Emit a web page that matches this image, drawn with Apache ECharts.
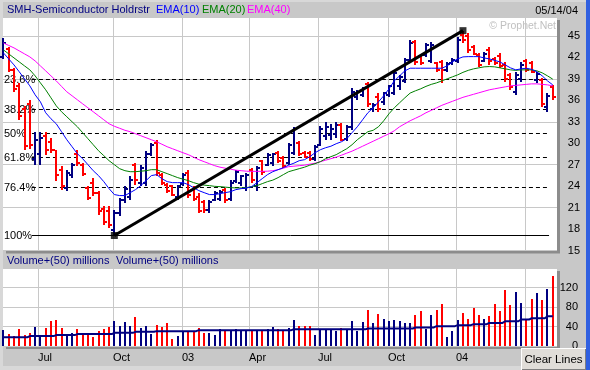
<!DOCTYPE html>
<html>
<head>
<meta charset="utf-8">
<script src="https://cdn.jsdelivr.net/npm/echarts@6/dist/echarts.min.js"></script>
<style>
html,body{margin:0;padding:0;background:#c8c8c8;overflow:hidden;}
#chart{width:590px;height:370px;}
</style>
</head>
<body>
<div id="chart"></div>
<script>
// ---- Weekly bars, May 2002 .. 05/14/04 (index 0 = first bar) ----
const opens = [
 42.0,43.2,40.2,38.0,34.8,35.5,27.8,
 28.5,31.0,30.2,29.0,26.3,23.8,25.6,28.5,27.0,23.8,
 24.5,23.0,20.8,20.5,17.8,20.3,22.0,22.5,27.0,24.5,
 24.5,28.5,30.0,25.5,24.2,24.0,22.5,24.3,25.8,23.5,
 22.5,21.8,20.6,22.0,22.2,23.5,22.2,24.7,24.5,23.8,
 26.3,24.0,27.5,27.0,27.2,28.7,28.0,27.2,28.6,30.0,
 28.7,28.6,27.8,29.8,31.0,31.2,31.3,32.5,30.6,32.2,
 36.5,36.8,38.3,34.8,36.5,35.8,36.8,37.0,38.0,38.7,
 41.7,44.2,42.2,42.4,41.5,41.2,41.3,40.3,41.2,41.5,
 45.2,45.0,43.5,42.3,41.5,43.0,41.8,42.2,41.0,39.5,
 37.2,39.0,41.5,41.2,38.8,38.8,35.0,37.8];
const highs = [
 44.7,43.5,40.5,38.4,35.2,36.1,31.5,
 31.5,31.6,30.8,29.1,26.8,26.3,27.3,29.0,27.3,24.0,
 25.1,23.3,21.2,21.2,20.7,22.4,24.0,25.4,27.2,27.0,
 28.9,30.1,30.4,25.8,24.5,24.2,24.2,25.8,26.3,24.0,
 23.0,22.1,22.1,23.3,23.5,23.7,24.9,26.3,25.6,25.8,
 26.6,26.8,27.7,28.7,28.7,28.9,28.2,30.1,32.3,30.3,
 28.9,28.9,29.8,32.4,32.9,32.7,32.9,32.8,32.6,37.7,
 37.5,37.9,38.6,35.6,37.0,37.2,38.2,40.3,39.6,41.9,
 44.4,44.5,42.35,44.0,44.2,41.4,41.65,41.4,41.9,44.9,
 45.7,45.4,43.75,42.6,42.8,43.5,42.1,42.6,41.4,39.8,
 40.0,41.4,41.75,41.55,40.0,39.1,37.0,38.2];
const lows = [
 41.8,40.0,37.2,33.3,29.0,29.2,27.0,
 27.0,28.4,28.7,24.7,23.5,23.3,25.2,26.8,25.4,22.1,
 22.6,20.0,18.6,18.2,17.1,19.8,21.7,22.1,24.2,24.0,
 24.0,28.2,25.4,24.2,23.1,22.6,22.1,24.0,22.4,21.9,
 20.3,20.3,20.3,21.9,21.9,21.7,21.9,24.4,24.0,23.3,
 24.4,23.3,25.6,26.8,26.8,27.2,26.5,27.0,28.4,28.2,
 27.9,27.5,27.5,29.6,30.5,30.5,30.7,30.3,30.3,31.9,
 36.1,36.5,35.1,34.4,34.4,35.4,36.5,36.8,37.5,38.4,
 41.4,41.0,41.0,42.1,41.2,40.0,38.4,40.0,41.0,41.2,
 44.0,42.6,42.35,40.7,41.4,41.0,41.0,40.5,38.6,37.5,
 36.8,38.6,40.0,39.8,38.4,35.1,34.4,36.1];
const closes = [
 44.0,40.3,37.6,33.8,29.6,29.8,30.5,
 30.8,29.0,29.0,25.5,24.0,25.8,27.0,27.2,25.7,22.4,
 23.0,20.5,19.0,18.6,20.2,22.0,23.6,24.8,24.9,26.5,
 28.5,29.8,25.8,24.4,23.3,22.8,24.0,25.5,22.8,22.2,
 20.5,20.6,21.8,23.0,23.2,22.0,24.5,26.0,25.4,25.5,
 24.8,26.5,26.0,28.4,28.5,27.5,26.8,29.8,32.0,28.5,
 28.1,27.8,29.5,32.0,32.3,32.0,32.5,30.5,32.3,37.2,
 37.2,37.7,35.5,35.4,34.8,37.0,38.0,39.8,39.3,41.6,
 44.0,41.4,41.2,43.7,43.8,40.2,40.3,41.1,41.7,44.5,
 44.5,43.0,42.5,41.0,42.5,41.5,41.2,40.8,39.0,37.8,
 39.5,41.0,40.3,40.0,39.7,35.5,36.6,36.4];
const ema10 = [
 42.63,41.79,40.95,39.98,39.00,38.02,36.77,
 35.79,34.26,33.42,32.72,31.61,30.49,29.51,28.53,27.84,27.00,
 26.16,25.47,24.63,23.65,22.82,22.68,22.68,23.09,23.51,24.07,
 24.77,25.47,25.61,25.05,24.63,24.49,24.49,24.49,24.21,23.79,
 23.37,23.09,22.82,22.82,22.95,23.09,23.23,23.51,23.65,23.72,
 23.93,24.49,25.05,25.61,26.02,26.30,26.58,26.93,27.21,27.56,
 27.70,28.12,28.67,29.09,29.37,29.58,29.93,30.21,30.63,31.47,
 32.30,33.28,34.26,34.95,35.79,36.63,37.61,38.72,39.42,40.12,
 40.49,40.49,40.49,40.49,40.49,40.49,40.49,40.81,41.37,41.79,
 42.07,42.11,42.11,42.11,41.93,41.79,41.58,41.37,40.95,40.54,
 40.26,40.40,40.49,40.33,39.98,39.42,38.72,38.16];
const ema20 = [
 43.05,42.49,41.93,41.37,40.81,40.26,39.42,
 38.44,37.47,36.35,35.23,34.40,33.70,33.00,32.30,31.47,30.63,
 29.79,28.95,28.26,27.56,27.00,26.44,26.16,26.02,26.02,26.09,
 26.16,26.30,26.30,26.02,25.75,25.47,25.19,24.98,24.77,24.49,
 24.28,24.14,24.07,23.97,23.93,23.86,23.79,23.75,23.75,23.79,
 23.93,24.07,24.35,24.63,24.84,25.19,25.61,26.02,26.23,26.44,
 26.65,26.93,27.14,27.42,27.84,28.12,28.40,28.82,29.23,29.79,
 30.49,31.05,31.61,31.81,32.30,33.14,34.12,34.95,35.65,36.35,
 37.01,37.33,37.61,37.95,38.23,38.44,38.72,39.00,39.28,39.56,
 39.91,40.19,40.40,40.54,40.68,40.72,40.68,40.54,40.40,40.26,
 40.19,40.26,40.26,40.26,40.12,39.84,39.42,38.96];
const ema40 = [
 44.02,43.67,43.33,42.91,42.49,42.07,41.51,
 40.81,40.12,39.42,38.72,37.95,37.19,36.63,36.07,35.51,34.95,
 34.40,33.84,33.28,32.72,32.37,32.09,31.81,31.61,31.33,31.05,
 30.77,30.49,30.21,29.86,29.51,29.23,28.95,28.67,28.40,28.05,
 27.70,27.42,27.14,26.86,26.65,26.51,26.37,26.23,26.16,26.09,
 26.07,26.07,26.07,26.09,26.16,26.30,26.51,26.72,26.79,26.86,
 26.93,27.07,27.21,27.42,27.63,27.84,28.05,28.33,28.61,28.89,
 29.23,29.58,29.93,30.28,30.63,30.98,31.33,31.74,32.30,32.72,
 33.14,33.49,33.84,34.26,34.60,34.95,35.30,35.58,35.86,36.14,
 36.42,36.63,36.84,37.05,37.26,37.47,37.61,37.75,37.88,38.02,
 38.09,38.16,38.23,38.30,38.30,38.23,38.16,38.02];
// volume, millions
const volumes = [
 32.5,24.4,20.3,34.6,22.4,27,38,
 22.4,36.6,51.5,54.3,36.6,24.4,27,34.6,27,27,
 17.7,31.1,35.2,38,51.5,40.7,49.4,40.7,59.6,36,
 40.7,24.4,42.7,39.3,47.4,13.6,20.3,31.1,31.1,29.9,
 36.6,27,25.8,22.4,34,31.1,32.5,35.2,32.5,32.5,
 32.5,32.5,31.1,34.6,38,34,32.5,36,52.9,40.7,
 40.7,40.7,22.4,34,34,34,30.5,36,34,51.5,
 30.5,49.4,73.2,47.4,65,56.3,51.5,54.3,51.5,47.4,
 46.2,63,71.2,34.6,63,73.2,85.4,17.7,30.5,52.9,
 67.7,54.9,77.3,63,56.3,61.6,85.4,71.2,113.9,83.4,
 109.8,88.9,54.3,97,108.4,93.6,117.3,144.4];
const volAvg50 = [
 17.7,17.7,17.7,17.7,17.7,20.3,20.3,
 20.3,20.3,20.3,22.4,22.4,22.4,22.4,24.4,24.4,24.4,
 24.4,24.4,24.4,24.4,27,27,27,27,29.1,29.1,
 29.1,29.1,30.5,30.5,30.5,30.5,30.5,30.5,30.5,30.5,
 32.5,32.5,32.5,32.5,32.5,32.5,32.5,32.5,32.5,32.5,
 32.5,32.5,32.5,32.5,32.5,32.5,32.5,32.5,34.2,34.2,
 34.2,34.2,34.2,34.2,34.2,34.2,34.2,34.2,34.2,34.2,
 34.2,34.2,36,36,36,36,36,36,36,36,
 36,38,38,38,38,40.7,40.7,40.7,40.7,42.7,
 42.7,42.7,44.7,44.7,44.7,47.4,47.4,47.4,50.8,50.8,
 50.8,54.3,54.3,56.9,56.9,56.9,61,61];
// ---- axis ticks / annotations ----
const monthLabels = ['Jul','Oct','03','Apr','Jul','Oct','04','Apr'];
const monthPos = [6.55,20.74,33.81,46.49,59.55,72.8,85.68,98.7];
const priceTicks = {min:15, max:47.65, step:3, gridStep:6};
const volTicks = {min:0, max:160, step:40};
const fibLabels = ['23.6%','38.2%','50%','61.8%','76.4%','100%'];
const fibLevels = [38.98,34.80,31.42,28.04,23.86,17.10];
const fibSpan = [5.4, 103.3];
const trendPoints = [[21, 17.10],[87, 45.74]];
const eMark = [103.0, 30.6];
const X_MIN = -0.081, X_MAX = 104.804;

const NAVY = '#000080', RED = '#ff0000';
const FONT = '"Liberation Sans", Arial, sans-serif';

const chart = echarts.init(document.getElementById('chart'), null, {renderer:'canvas', width:590, height:370});

const ohlcData = opens.map((o,i)=>[i, o, highs[i], lows[i], closes[i]]);
const volData = volumes.map((v,i)=>[i, v, closes[i] >= opens[i] ? 1 : 0]);

function ohlcItem(params, api){
  const x = api.value(0), o = api.value(1), h = api.value(2), l = api.value(3), c = api.value(4);
  const pt = api.coord([x,h]), pb = api.coord([x,l]), po = api.coord([x,o]), pc = api.coord([x,c]);
  const px = Math.round(pt[0]);
  const col = c < o ? RED : NAVY;
  const yt = Math.round(pt[1]), yb = Math.round(pb[1]);
  const yo = Math.round(po[1]), yc = Math.round(pc[1]);
  return {type:'group', children:[
    {type:'rect', shape:{x:px-1, y:yt, width:2, height:Math.max(2, yb-yt)}, style:{fill:col}},
    {type:'rect', shape:{x:px-3, y:yo-1, width:2, height:2}, style:{fill:col}},
    {type:'rect', shape:{x:px+1, y:yc-1, width:2, height:2}, style:{fill:col}}
  ]};
}
function volItem(params, api){
  const x = api.value(0), v = api.value(1), up = api.value(2);
  const p0 = api.coord([x,0]), p1 = api.coord([x,v]);
  const px = Math.round(p0[0]);
  const y1 = Math.round(p1[1]), y0 = Math.round(p0[1]);
  return {type:'rect', shape:{x:px-1, y:y1, width:2, height:y0-y1}, style:{fill: up ? NAVY : RED}};
}
function vGridPrice(params, api){
  const p = api.value(0);
  const a = api.coord([p, priceTicks.min]), b = api.coord([p, priceTicks.max]);
  const x = Math.round(a[0]) + 0.5;
  return {type:'line', shape:{x1:x, y1:b[1], x2:x, y2:a[1]}, style:{stroke:'#c8c8c8', lineWidth:1}};
}
function vGridVol(params, api){
  const p = api.value(0);
  const a = api.coord([p, volTicks.min]), b = api.coord([p, volTicks.max]);
  const x = Math.round(a[0]) + 0.5;
  return {type:'group', children:[
    {type:'line', shape:{x1:x, y1:b[1], x2:x, y2:a[1]}, style:{stroke:'#c8c8c8', lineWidth:1}},
    {type:'text', x:x-0.5, y:a[1]+12, style:{text:monthLabels[params.dataIndex], fill:'#000', font:'11px '+FONT, align:'left', verticalAlign:'middle'}}
  ]};
}
function fibItem(params, api){
  const k = params.dataIndex;
  const v = api.value(1);
  const a = api.coord([fibSpan[0], v]), b = api.coord([fibSpan[1], v]), s = api.coord([X_MIN, v]);
  const y = Math.round(a[1]) + 0.5;
  const solid = k === fibLevels.length - 1;
  return {type:'group', children:[
    {type:'line', shape:{x1:a[0], y1:y, x2:b[0], y2:y}, style:{stroke:'#000', lineWidth:1, lineDash: solid ? null : [4,3]}},
    {type:'text', x:s[0]+1, y:y, style:{text:fibLabels[k], fill:'#000', font:'11px '+FONT, align:'left', verticalAlign:'middle'}}
  ]};
}

const option = {
  animation:false,
  backgroundColor:'#c8c8c8',
  grid:[
    {left:3, top:17, width:554, height:233.5, show:true, backgroundColor:'#ffffff', borderWidth:0},
    {left:3, top:268, width:554, height:78, show:true, backgroundColor:'#ffffff', borderWidth:0}
  ],
  xAxis:[
    {type:'value', gridIndex:0, min:X_MIN, max:X_MAX, show:false},
    {type:'value', gridIndex:1, min:X_MIN, max:X_MAX, show:false}
  ],
  yAxis:[
    {type:'value', gridIndex:0, position:'right', min:priceTicks.min, max:priceTicks.max, interval:priceTicks.step,
     axisLine:{show:false}, axisTick:{show:false}, splitLine:{show:false},
     axisLabel:{color:'#000', fontSize:11, fontFamily:FONT, align:'right', margin:23, showMaxLabel:false}},
    {type:'value', gridIndex:0, position:'left', min:priceTicks.min, max:priceTicks.max, interval:priceTicks.gridStep,
     axisLine:{show:false}, axisTick:{show:false}, axisLabel:{show:false},
     splitLine:{show:true, lineStyle:{color:'#c8c8c8', width:1}}},
    {type:'value', gridIndex:1, position:'right', min:volTicks.min, max:volTicks.max, interval:volTicks.step,
     axisLine:{show:false}, axisTick:{show:false},
     splitLine:{show:true, lineStyle:{color:'#c8c8c8', width:1}},
     axisLabel:{color:'#000', fontSize:11, fontFamily:FONT, align:'right', margin:21, showMaxLabel:false}}
  ],
  series:[
    {type:'custom', name:'vgrid', xAxisIndex:0, yAxisIndex:0, z:1, silent:true, renderItem:vGridPrice, data:monthPos.map(p=>[p])},
    {type:'custom', name:'vgridvol', xAxisIndex:1, yAxisIndex:2, z:1, silent:true, renderItem:vGridVol, data:monthPos.map(p=>[p])},
    {type:'custom', name:'fib', xAxisIndex:0, yAxisIndex:0, z:3, silent:true, renderItem:fibItem, data:fibLevels.map((v,k)=>[k,v])},
    {type:'custom', name:'SMH', xAxisIndex:0, yAxisIndex:0, z:4, renderItem:ohlcItem, data:ohlcData},
    {type:'line', name:'EMA(40)', xAxisIndex:0, yAxisIndex:0, z:5, data:ema40.map((v,i)=>[i,v]), showSymbol:false, lineStyle:{color:'#ff00ff', width:1}},
    {type:'line', name:'EMA(20)', xAxisIndex:0, yAxisIndex:0, z:5, data:ema20.map((v,i)=>[i,v]), showSymbol:false, lineStyle:{color:'#008000', width:1}},
    {type:'line', name:'EMA(10)', xAxisIndex:0, yAxisIndex:0, z:5, data:ema10.map((v,i)=>[i,v]), showSymbol:false, lineStyle:{color:'#0000ff', width:1}},
    {type:'line', name:'trend', xAxisIndex:0, yAxisIndex:0, z:7, data:trendPoints, showSymbol:false, lineStyle:{color:'#000', width:3}},
    {type:'scatter', name:'ends', xAxisIndex:0, yAxisIndex:0, z:8, data:trendPoints, symbol:'rect', symbolSize:7, itemStyle:{color:'#000'}},
    {type:'scatter', name:'E', xAxisIndex:0, yAxisIndex:0, z:8, data:[eMark], symbolSize:1, itemStyle:{opacity:0},
     label:{show:true, position:'inside', formatter:'E', color:'#ff0000', fontFamily:'"Liberation Serif", "Times New Roman", serif', fontWeight:'bold', fontSize:14}},
    {type:'custom', name:'Volume', xAxisIndex:1, yAxisIndex:2, z:4, renderItem:volItem, data:volData},
    {type:'line', name:'Vol50', xAxisIndex:1, yAxisIndex:2, z:5, step:'middle', data:volAvg50.map((v,i)=>[i,v]), showSymbol:false, lineStyle:{color:NAVY, width:2}}
  ],
  graphic:[
    {type:'rect', shape:{x:0, y:0, width:590, height:2}, style:{fill:'#d8d8d8'}, silent:true},
    {type:'rect', shape:{x:0, y:0, width:3, height:370}, style:{fill:'#d8d8d8'}, silent:true},
    {type:'rect', shape:{x:0, y:366, width:590, height:4}, style:{fill:'#d8d8d8'}, silent:true},
    {type:'rect', shape:{x:586, y:0, width:4, height:370}, style:{fill:'#3060e0'}, silent:true},
    {type:'rect', shape:{x:557, y:20, width:3, height:233}, style:{fill:'#8c8c8c'}, silent:true},
    {type:'rect', shape:{x:6, y:250.5, width:554, height:3}, style:{fill:'#8c8c8c'}, silent:true},
    {type:'rect', shape:{x:557, y:271, width:3, height:78}, style:{fill:'#8c8c8c'}, silent:true},
    {type:'rect', shape:{x:6, y:346, width:554, height:3}, style:{fill:'#8c8c8c'}, silent:true},
    {type:'text', x:7, y:10, style:{text:'SMH-Semiconductor Holdrstr', fill:NAVY, font:'11px '+FONT, verticalAlign:'middle'}},
    {type:'text', x:156, y:10, style:{text:'EMA(10)', fill:'#0000ff', font:'11px '+FONT, verticalAlign:'middle'}},
    {type:'text', x:202, y:10, style:{text:'EMA(20)', fill:'#008000', font:'11px '+FONT, verticalAlign:'middle'}},
    {type:'text', x:247, y:10, style:{text:'EMA(40)', fill:'#ff00ff', font:'11px '+FONT, verticalAlign:'middle'}},
    {type:'text', x:578, y:10.5, style:{text:'05/14/04', fill:'#000', font:'11px '+FONT, align:'right', verticalAlign:'middle'}},
    {type:'text', x:556, y:26.5, z:1, style:{text:'\u00a9 Prophet.Net', fill:'#c0c0c0', font:'10.5px '+FONT, align:'right', verticalAlign:'middle'}},
    {type:'text', x:7, y:260.5, style:{text:'Volume+(50) millions', fill:NAVY, font:'11px '+FONT, verticalAlign:'middle'}},
    {type:'text', x:116, y:260.5, style:{text:'Volume+(50) millions', fill:NAVY, font:'11px '+FONT, verticalAlign:'middle'}},
    {type:'group', z:100, children:[
      {type:'rect', z:100, shape:{x:521, y:348, width:65, height:22}, style:{fill:'#ffffff'}},
      {type:'rect', z:101, shape:{x:522, y:349, width:64, height:21}, style:{fill:'#808080'}},
      {type:'rect', z:102, shape:{x:522, y:349, width:63, height:20}, style:{fill:'#e0ddd8'}},
      {type:'text', z:103, x:553.5, y:359.5, style:{text:'Clear Lines', fill:'#000', font:'11.5px '+FONT, align:'center', verticalAlign:'middle'}}
    ]}
  ]
};
chart.setOption(option);
</script>
</body>
</html>
